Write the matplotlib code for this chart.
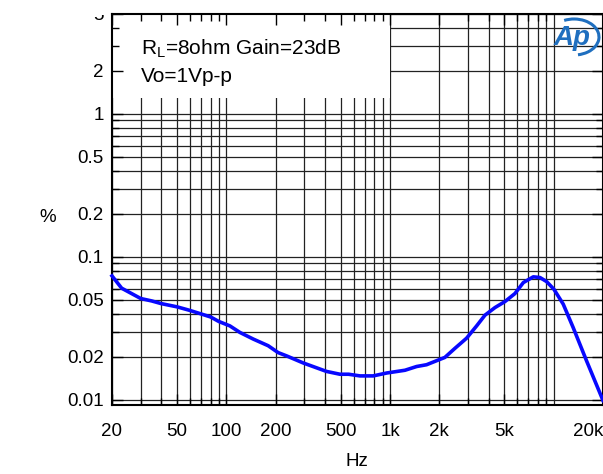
import matplotlib
matplotlib.use("Agg")
import matplotlib.pyplot as plt
from matplotlib.patches import Rectangle, Arc
from matplotlib.transforms import Bbox

plt.rcParams['font.family'] = ['Liberation Sans', 'DejaVu Sans']

# THD+N (%) vs frequency
freq = [20, 22.9, 30, 34.9, 40, 50, 59, 69, 80, 90, 105, 121, 146, 180, 207,
        233, 295, 409, 494, 558, 655, 789, 953, 1233, 1453, 1671, 2162, 2489,
        2936, 3380, 3801, 4377, 5036, 5795, 6520, 7500, 8240, 9040, 10020,
        11430, 13150, 15880, 20000]
thd = [0.0736, 0.0604, 0.0511, 0.0492, 0.0471, 0.0447, 0.0424, 0.0401, 0.0380,
       0.0353, 0.0329, 0.0296, 0.0266, 0.0239, 0.0214, 0.0203, 0.0181, 0.0158,
       0.0151, 0.0151, 0.0147, 0.0147, 0.0154, 0.0161, 0.0171, 0.0176, 0.0198,
       0.0229, 0.0270, 0.0329, 0.0391, 0.0442, 0.0487, 0.0554, 0.0661, 0.0725,
       0.0717, 0.0672, 0.0594, 0.0467, 0.0320, 0.0187, 0.0099]

x_ticks = [20, 50, 100, 200, 500, 1000, 2000, 5000, 20000]
x_labels = ["20", "50", "100", "200", "500", "1k", "2k", "5k", "20k"]
y_ticks = [0.01, 0.02, 0.05, 0.1, 0.2, 0.5, 1, 2, 5]
y_labels = ["0.01", "0.02", "0.05", "0.1", "0.2", "0.5", "1", "2", "5"]

x_grid = [m * d for d in (10, 100, 1000, 10000) for m in range(1, 10)
          if 20 <= m * d <= 20000]
y_grid = [m * d for d in (0.01, 0.1, 1) for m in range(1, 10)
          if m * d <= 5]


def main():
    fig = plt.figure(figsize=(6.03, 4.74), dpi=100)
    ax = fig.add_axes([112 / 603, 69 / 474, 491 / 603, 391 / 474])
    ax.set_xscale("log")
    ax.set_yscale("log")
    ax.set_xlim(20, 20000)
    ax.set_ylim(0.0092, 5)

    for gx in x_grid:
        ax.axvline(gx, color="#222222", lw=0.9, zorder=1)
    for gy in y_grid:
        ax.axhline(gy, color="#222222", lw=0.9, zorder=1)

    # white label box hiding the grid in the top-left corner
    ax.add_patch(Rectangle((20, 1.3), 980, 3.7, facecolor="white",
                           edgecolor="none", zorder=1.5))
    fig.text(141 / 603, 1 - 49 / 474, "R$_\\mathregular{L}$=8ohm Gain=23dB",
             fontsize=15, va="center", zorder=3)
    fig.text(141 / 603, 1 - 76 / 474, "Vo=1Vp-p", fontsize=15,
             va="center", zorder=3)

    ax.plot(freq, thd, color="#0808ff", lw=2.6, zorder=4, clip_on=False)

    ax.set_xticks(x_ticks)
    ax.set_xticklabels(x_labels)
    ax.set_yticks(y_ticks)
    ax.set_yticklabels(y_labels)
    ax.tick_params(which="both", direction="in", top=True, right=True,
                   labelsize=13.5, color="black")
    ax.tick_params(which="major", length=8, width=1)
    ax.tick_params(which="minor", length=5, width=1)
    ax.tick_params(axis="x", which="major", pad=13)
    ax.tick_params(axis="y", which="major", pad=6)
    ax.get_xticklabels()[-1].set_horizontalalignment("right")
    for s in ax.spines.values():
        s.set_linewidth(1.5)

    # the top "5" label is cut off at the frame top, as in the reference
    top_clip = Bbox.from_extents(0, 0, 603, 474 - 15)
    ax.get_yticklabels()[-1].set_clip_box(top_clip)
    ax.get_yticklabels()[-1].set_clip_on(True)

    fig.text(48 / 603, 1 - 218 / 474, "%", fontsize=13.5, ha="center",
             va="center")
    fig.text(357 / 603, 1 - 462 / 474, "Hz", fontsize=13.5, ha="center",
             va="center")

    # Ap logo
    fig.text(572 / 603, 1 - 38 / 474, "Ap", fontsize=20, color="#1f6fbf",
             style="italic", weight="bold", ha="center", va="center")
    fig.add_artist(Arc((574 / 603, 1 - 37 / 474), 50 / 603, 36 / 474,
                       theta1=-80, theta2=115, color="#1f6fbf", lw=2.2,
                       transform=fig.transFigure))

    fig.savefig("out.png", dpi=100)


if __name__ == "__main__":
    main()
